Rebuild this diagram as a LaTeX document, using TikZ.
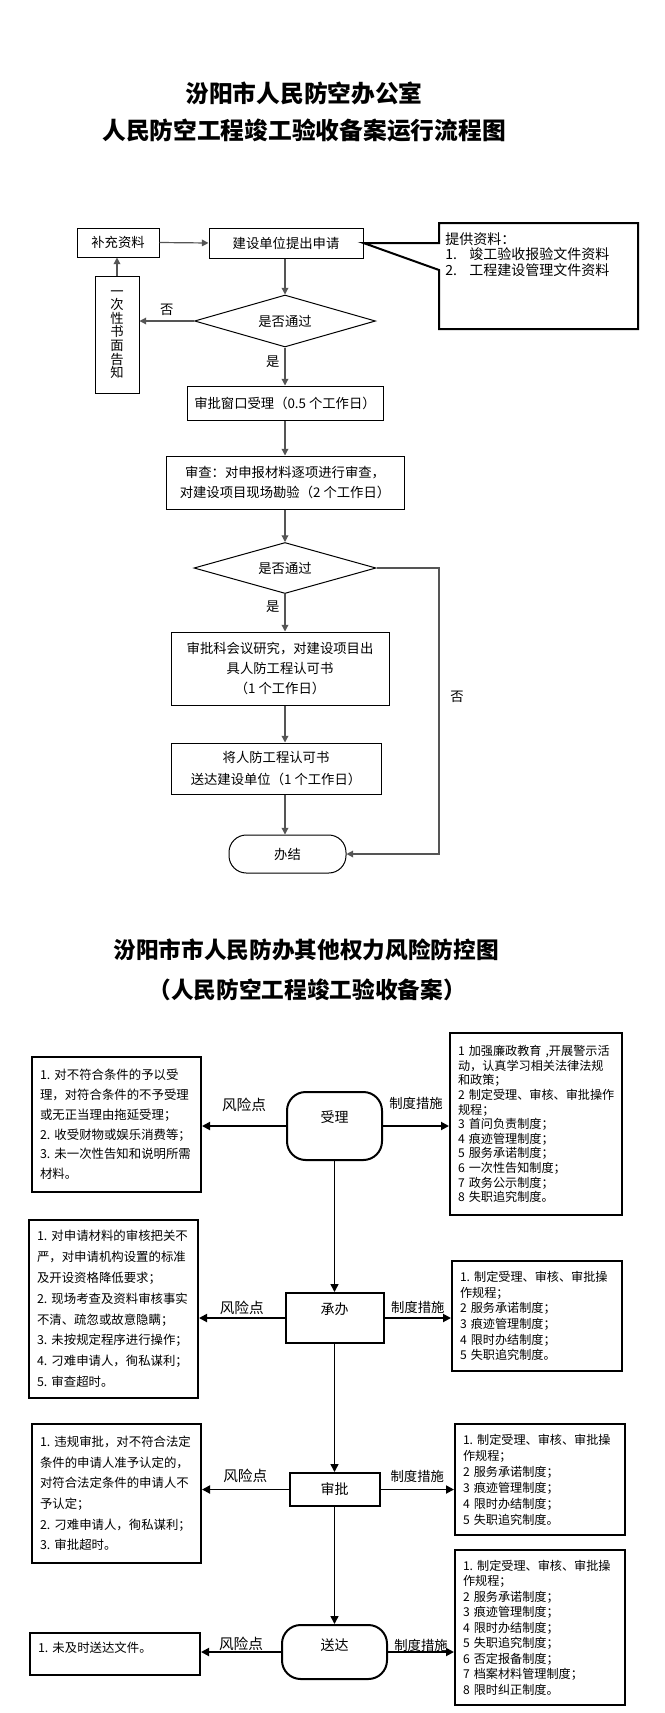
\documentclass[tikz,border=0pt]{standalone}
\usepackage{fontspec}
\setmainfont{Noto Sans CJK SC}
\usetikzlibrary{shapes.geometric,arrows.meta}
\definecolor{linegray}{HTML}{555555}

\begin{document}
\begin{tikzpicture}[x=0.75pt, y=-0.75pt, every node/.style={inner sep=0pt},
  title/.style={font=\fontsize{17.8}{20}\selectfont\bfseries},
  box/.style={draw, line width=0.75pt, align=center, font=\fontsize{10}{15}\selectfont},
  dec/.style={draw, line width=0.75pt, diamond, aspect=3.5},
  flow/.style={draw=linegray, line width=0.9pt, -{Triangle[length=5pt,width=5pt]}},
  stage/.style={draw, line width=1.5pt, font=\fontsize{10.5}{12}\selectfont},
  risk/.style={draw, line width=1.5pt, align=left, inner xsep=6pt, text width=114.75pt},
  measure/.style={draw, line width=1.5pt, align=left, inner xsep=6pt, text width=115.5pt},
  flow2/.style={line width=1.4pt, -{Triangle[length=6pt,width=6pt]}},
  risktag/.style={font=\fontsize{11}{12}\selectfont},
  ruletag/.style={font=\fontsize{10}{12}\selectfont}
]
\useasboundingbox (0,0) rectangle (664,1713);

% first chart
\node[title] (t1) at (304,93) {汾阳市人民防空办公室};
\node[title] (t2) at (304,130) {人民防空工程竣工验收备案运行流程图};

\node[box, minimum width=61.5pt, minimum height=21.75pt] (buchong) at (118,242.5) {补充资料};
\node[box, minimum width=115.5pt, minimum height=22.5pt] (shenqing) at (286,243) {建设单位提出申请};
\node[box, minimum width=33pt, minimum height=87.75pt, font=\fontsize{10}{10.2}\selectfont] (yici) at (117,334.5) {一\\次\\性\\书\\面\\告\\知};
\node[dec, minimum width=135.75pt, minimum height=39pt] (d1) at (285,321) {是否通过};
\node[box, minimum width=147pt, minimum height=25.5pt] (chuangkou) at (285,403) {审批窗口受理（0.5 个工作日）};
\node[box, minimum width=178.5pt, minimum height=39.75pt] (shencha) at (285,482.5) {审查：对申报材料逐项进行审查，\\对建设项目现场勘验（2 个工作日）};
\node[dec, minimum width=136.5pt, minimum height=38.25pt] (d2) at (285,568) {是否通过};
\node[box, minimum width=163.5pt, minimum height=54.75pt] (huiyi) at (280,668.5) {审批科会议研究，对建设项目出\\具人防工程认可书\\（1 个工作日）};
\node[box, minimum width=157.5pt, minimum height=38.25pt, font=\fontsize{10}{16.5}\selectfont] (renke) at (276,768.5) {将人防工程认可书\\送达建设单位（1 个工作日）};
\node[box, rounded corners=13pt, minimum width=87.75pt, minimum height=28.5pt] (banjie) at (287.5,854) {办结};

% callout
\coordinate (cnw) at (439,223);
\coordinate (cse) at (638,329);
\coordinate (cw) at (439,270);
\draw[line width=1.5pt] (shenqing.east) -- (cnw |- shenqing.east) -- (cnw) -- (cnw -| cse) -- (cse) -- (cse -| cnw) -- (cw) -- cycle;
\node[anchor=north west, align=left, font=\fontsize{10.5}{11.8}\selectfont] (ziliao) at (445,232) {提供资料：\\\makebox[18pt][l]{1.}竣工验收报验文件资料\\\makebox[18pt][l]{2.}工程建设管理文件资料};

\draw[flow] (buchong.east) -- (shenqing.west);
\draw[flow] (yici.north) -- (yici.north |- buchong.south);
\draw[flow] (d1.north |- shenqing.south) -- (d1.north);
\draw[flow] (d1.west) -- node[above=3.75pt]{否} (yici.east |- d1.west);
\draw[flow] (d1.south) -- node[left=3.75pt, pos=0.38]{是} (chuangkou.north);
\draw[flow] (chuangkou.south) -- (shencha.north);
\draw[flow] (shencha.south) -- (d2.north);
\draw[flow] (d2.south) -- node[left=3.75pt, pos=0.35]{是} (d2.south |- huiyi.north);
\draw[flow] (d2.south |- huiyi.south) -- (d2.south |- renke.north);
\draw[flow] (d2.south |- renke.south) -- (d2.south |- banjie.north);
\coordinate (nox) at (439,568);
\draw[flow] (d2.east) -- (nox) -- node[right=8pt, pos=0.45]{否} (nox |- banjie.east) -- (banjie.east);

% second chart
\node[title, font=\fontsize{17}{20}\selectfont\bfseries] (t3) at (306,950) {汾阳市市人民防办其他权力风险防控图};
\node[title, font=\fontsize{17}{20}\selectfont\bfseries] (t4) at (307,990) {（人民防空工程竣工验收备案）};

\node[stage, rounded corners=14pt, minimum width=71.25pt, minimum height=51pt, text depth=14pt] (shouli) at (334.5,1126) {受理};
\node[stage, minimum width=73.5pt, minimum height=37.5pt, text depth=14pt] (chengban) at (334.5,1318) {承办};
\node[stage, minimum width=67.5pt, minimum height=24.75pt] (shenpi) at (334.5,1489.5) {审批};
\node[stage, rounded corners=14pt, minimum width=78.75pt, minimum height=40.5pt, text depth=11pt] (songda) at (334.5,1652) {送达};

\node[risk, minimum height=101.25pt, font=\fontsize{9.3}{14.85}\selectfont] (risk1) at (116.5,1124.5) {1.~对不符合条件的予以受\\理，对符合条件的不予受理\\或无正当理由拖延受理；\\2.~收受财物或娱乐消费等；\\3.~未一次性告知和说明所需\\材料。};
\node[risk, minimum height=133.5pt, font=\fontsize{9.3}{15.6}\selectfont] (risk2) at (113.5,1309) {1.~对申请材料的审核把关不\\严，对申请机构设置的标准\\及开设资格降低要求；\\2.~现场考查及资料审核事实\\不清、疏忽或故意隐瞒；\\3.~未按规定程序进行操作；\\4.~刁难申请人，徇私谋利；\\5.~审查超时。};
\node[risk, minimum height=104.25pt, font=\fontsize{9.3}{15.45}\selectfont] (risk3) at (116.5,1493.5) {1.~违规审批，对不符合法定\\条件的申请人准予认定的，\\对符合法定条件的申请人不\\予认定；\\2.~刁难申请人，徇私谋利；\\3.~审批超时。};
\node[risk, text width=115.5pt, minimum height=31.5pt, text depth=10pt, font=\fontsize{9.3}{12}\selectfont] (risk4) at (115,1654) {1.~未及时送达文件。};

\node[measure, text width=117pt, minimum height=136.5pt, font=\fontsize{9.1}{10.95}\selectfont] (m1) at (536,1124) {1~加强廉政教育~,开展警示活\\动，认真学习相关法律法规\\和政策；\\2~制定受理、审核、审批操作\\规程；\\3~首问负责制度；\\4~痕迹管理制度；\\5~服务承诺制度；\\6~一次性告知制度；\\7~政务公示制度；\\8~失职追究制度。};
\node[measure, minimum height=82.5pt, font=\fontsize{9.1}{11.7}\selectfont] (m2) at (537,1316) {1.~制定受理、审核、审批操\\作规程；\\2~服务承诺制度；\\3~痕迹管理制度；\\4~限时办结制度；\\5~失职追究制度。};
\node[measure, minimum height=83.25pt, font=\fontsize{9.1}{12}\selectfont] (m3) at (540,1479.5) {1.~制定受理、审核、审批操\\作规程；\\2~服务承诺制度；\\3~痕迹管理制度；\\4~限时办结制度；\\5~失职追究制度。};
\node[measure, minimum height=116.25pt, font=\fontsize{9.1}{11.6}\selectfont] (m4) at (540,1627.5) {1.~制定受理、审核、审批操\\作规程；\\2~服务承诺制度；\\3~痕迹管理制度；\\4~限时办结制度；\\5~失职追究制度；\\6~否定报备制度；\\7~档案材料管理制度；\\8~限时纠正制度。};

\draw[flow2] (shouli.west) -- node[risktag, above=10pt]{风险点} (risk1.east |- shouli.west);
\draw[flow2] (shouli.east) -- node[ruletag, above=12pt]{制度措施} (m1.west |- shouli.east);
\draw[flow2] (chengban.west) -- node[risktag, above=2pt]{风险点} (risk2.east |- chengban.west);
\draw[flow2] (chengban.east) -- node[ruletag, above=2.5pt]{制度措施} (m2.west |- chengban.east);
\draw[flow2] (shenpi.west) -- node[risktag, above=4.3pt]{风险点} (risk3.east |- shenpi.west);
\draw[flow2] (shenpi.east) -- node[ruletag, above=4.7pt]{制度措施} (m3.west |- shenpi.east);
\draw[flow2] (songda.west) -- node[risktag, above=0.5pt]{风险点} (risk4.east |- songda.west);
\draw[flow2] (songda.east) -- node[ruletag, above=0pt]{制度措施} (m4.west |- songda.east);
\draw[flow2, line width=1.1pt] (shouli.south) -- (chengban.north);
\draw[flow2, line width=1.1pt] (chengban.south) -- (shenpi.north);
\draw[flow2, line width=1.1pt] (shenpi.south) -- (songda.north);
\end{tikzpicture}
\end{document}
